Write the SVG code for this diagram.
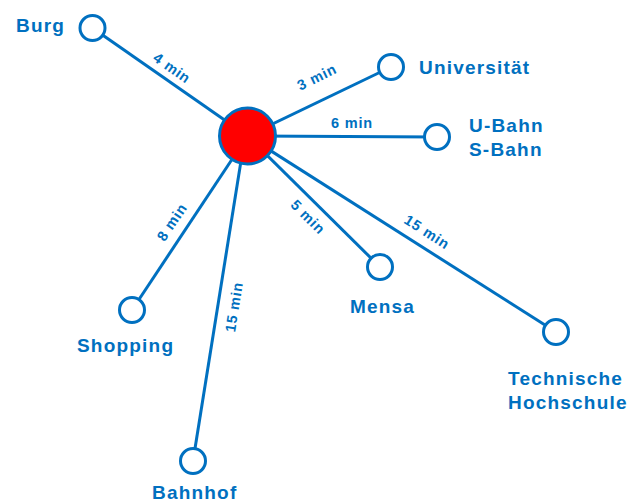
<svg xmlns="http://www.w3.org/2000/svg" width="641" height="502" viewBox="0 0 641 502">
<style>
.edge{stroke:#0070C0;stroke-width:3;fill:none}
.node{fill:#fff;stroke:#0070C0;stroke-width:3}
.hub{fill:#FF0000;stroke:#0070C0;stroke-width:3}
.lbl{font-family:"Liberation Sans",Arial,sans-serif;font-weight:bold;font-size:19px;letter-spacing:1.2px;fill:#0070C0}
.elbl{font-family:"Liberation Sans",Arial,sans-serif;font-weight:bold;font-size:14.5px;letter-spacing:0.8px;fill:#0070C0;text-anchor:middle}
</style>
<rect width="641" height="502" fill="#fff"/>
<g id="connectors">
<line class="edge" x1="247.5" y1="136" x2="92.5" y2="28"/>
<line class="edge" x1="247.5" y1="136" x2="391" y2="67"/>
<line class="edge" x1="247.5" y1="136" x2="437" y2="137"/>
<line class="edge" x1="247.5" y1="136" x2="380" y2="267"/>
<line class="edge" x1="247.5" y1="136" x2="556" y2="332"/>
<line class="edge" x1="247.5" y1="136" x2="132" y2="310"/>
<line class="edge" x1="245" y1="136" x2="193" y2="461"/>
<g transform="translate(172,68) rotate(35)"><text class="elbl" x="0" y="5">4 min</text></g>
<g transform="translate(317,77) rotate(-26)"><text class="elbl" x="0" y="5">3 min</text></g>
<g transform="translate(352,123)"><text class="elbl" x="0" y="5">6 min</text></g>
<g transform="translate(308,217) rotate(45)"><text class="elbl" x="0" y="5">5 min</text></g>
<g transform="translate(427,232) rotate(32.5)"><text class="elbl" x="0" y="5">15 min</text></g>
<g transform="translate(172,222) rotate(-56)"><text class="elbl" x="0" y="5">8 min</text></g>
<g transform="translate(234,307) rotate(-81)"><text class="elbl" x="0" y="5">15 min</text></g>
</g>
<g id="hub"><circle class="hub" cx="247.5" cy="136" r="28"/></g>
<g id="burg"><circle class="node" cx="92.5" cy="28" r="12.5"/><text class="lbl" x="16" y="32">Burg</text></g>
<g id="universitaet"><circle class="node" cx="391" cy="67" r="12.5"/><text class="lbl" x="419" y="73.5">Universität</text></g>
<g id="bahn"><circle class="node" cx="437" cy="137" r="12.5"/><text class="lbl" x="469" y="131.5">U-Bahn</text><text class="lbl" x="469" y="155.5">S-Bahn</text></g>
<g id="mensa"><circle class="node" cx="380" cy="267" r="12.5"/><text class="lbl" x="350" y="313">Mensa</text></g>
<g id="th"><circle class="node" cx="556" cy="332" r="12.5"/><text class="lbl" x="508" y="385">Technische</text><text class="lbl" x="508" y="409">Hochschule</text></g>
<g id="shopping"><circle class="node" cx="132" cy="310" r="12.5"/><text class="lbl" x="77" y="352">Shopping</text></g>
<g id="bahnhof"><circle class="node" cx="193" cy="461" r="12.5"/><text class="lbl" x="152" y="499">Bahnhof</text></g>
</svg>
